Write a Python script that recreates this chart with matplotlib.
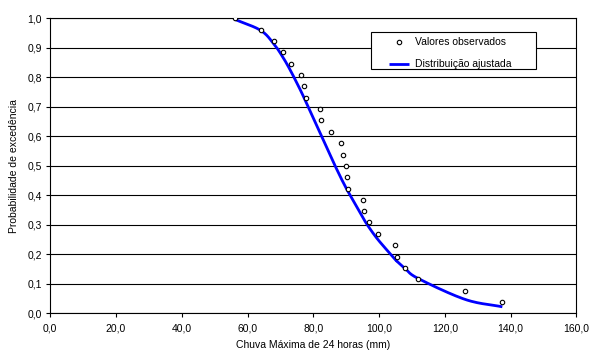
import matplotlib
matplotlib.use("Agg")
import matplotlib.pyplot as plt
import numpy as np
from matplotlib.patches import Rectangle
from matplotlib.ticker import FuncFormatter, MultipleLocator

plt.rcParams['font.family'] = ['Liberation Sans', 'DejaVu Sans']

# Observed maxima (mm) and their exceedance probabilities
chuva_obs = [56.2, 64.0, 68.0, 70.7, 73.2, 76.2, 77.2, 77.7, 81.9, 82.3,
             85.4, 88.3, 88.9, 89.9, 90.1, 90.5, 95.0, 95.4, 96.9, 99.8,
             104.8, 105.4, 108.0, 111.9, 126.2, 137.5]
prob_obs = [1.000, 0.962, 0.923, 0.885, 0.846, 0.808, 0.769, 0.731, 0.692, 0.654,
            0.615, 0.577, 0.538, 0.500, 0.462, 0.423, 0.385, 0.346, 0.308, 0.269,
            0.231, 0.192, 0.154, 0.115, 0.077, 0.038]
# Fitted distribution
prob_ajust = [0.996, 0.959, 0.913, 0.869, 0.820, 0.754, 0.730, 0.718, 0.615, 0.605,
              0.529, 0.461, 0.448, 0.426, 0.422, 0.414, 0.326, 0.318, 0.292, 0.248,
              0.184, 0.177, 0.151, 0.118, 0.047, 0.022]


def smooth_line(x, y, n=20):
    """Catmull-Rom style smoothing (like a spreadsheet 'smoothed line')."""
    x = np.asarray(x, float)
    y = np.asarray(y, float)
    px = np.concatenate([[2 * x[0] - x[1]], x, [2 * x[-1] - x[-2]]])
    py = np.concatenate([[2 * y[0] - y[1]], y, [2 * y[-1] - y[-2]]])
    t = np.linspace(0, 1, n, endpoint=False)
    xs, ys = [], []
    for i in range(1, len(px) - 2):
        p0, p1, p2, p3 = px[i - 1], px[i], px[i + 1], px[i + 2]
        q0, q1, q2, q3 = py[i - 1], py[i], py[i + 1], py[i + 2]
        m1x, m2x = (p2 - p0) / 6, (p3 - p1) / 6
        m1y, m2y = (q2 - q0) / 6, (q3 - q1) / 6
        h00 = (1 - t) ** 3
        h01 = 3 * t * (1 - t) ** 2
        h10 = 3 * t ** 2 * (1 - t)
        h11 = t ** 3
        xs.append(h00 * p1 + h01 * (p1 + m1x) + h10 * (p2 - m2x) + h11 * p2)
        ys.append(h00 * q1 + h01 * (q1 + m1y) + h10 * (q2 - m2y) + h11 * q2)
    xs.append([x[-1]])
    ys.append([y[-1]])
    return np.concatenate(xs), np.concatenate(ys)


fig = plt.figure(figsize=(5.91, 3.54), dpi=100)
ax = fig.add_axes([50.3/591, 1-313.3/354, (576.3-50.3)/591, (313.3-18.3)/354])

sx, sy = smooth_line(chuva_obs, prob_ajust)
line, = ax.plot(sx, sy, color='#0000ff', lw=2.0, zorder=3,
                label='Distribuição ajustada', solid_capstyle='butt')
pts, = ax.plot(chuva_obs, prob_obs, linestyle='none', marker='o', markersize=3.2,
               markerfacecolor='white', markeredgecolor='black', markeredgewidth=0.8,
               zorder=4, label='Valores observados')

ax.set_xlim(0, 160)
ax.set_ylim(0, 1.0)
ax.xaxis.set_major_locator(MultipleLocator(20))
ax.yaxis.set_major_locator(MultipleLocator(0.1))
fmt = FuncFormatter(lambda v, p: f"{v:.1f}".replace('.', ','))
ax.xaxis.set_major_formatter(fmt)
ax.yaxis.set_major_formatter(fmt)
ax.tick_params(axis='both', labelsize=7.5, length=3, width=0.8, direction='out',
               colors='black', pad=3)
ax.tick_params(axis='x', pad=4)
ax.yaxis.grid(True, color='black', lw=0.8)
ax.set_axisbelow(True)
for s in ax.spines.values():
    s.set_color('black')
    s.set_linewidth(0.8)

ax.set_xlabel('Chuva Máxima de 24 horas (mm)', fontsize=7.5, labelpad=5)
ax.set_ylabel('Probabilidade de excedência', fontsize=7.5, labelpad=6)

# Legend frame
ax.add_patch(Rectangle((0.6097, 0.827), 0.3137, 0.1255, transform=ax.transAxes,
                       facecolor='white', edgecolor='black', lw=0.8, zorder=5))
leg = ax.legend([pts, line], ['Valores observados', 'Distribuição ajustada'],
                loc='upper left', bbox_to_anchor=(0.644, 0.935),
                fontsize=7.5, frameon=False, handlelength=1.95, handletextpad=0.55,
                borderpad=0, labelspacing=1.15, borderaxespad=0)
leg.set_zorder(6)

fig.savefig('out.png', dpi=100)
